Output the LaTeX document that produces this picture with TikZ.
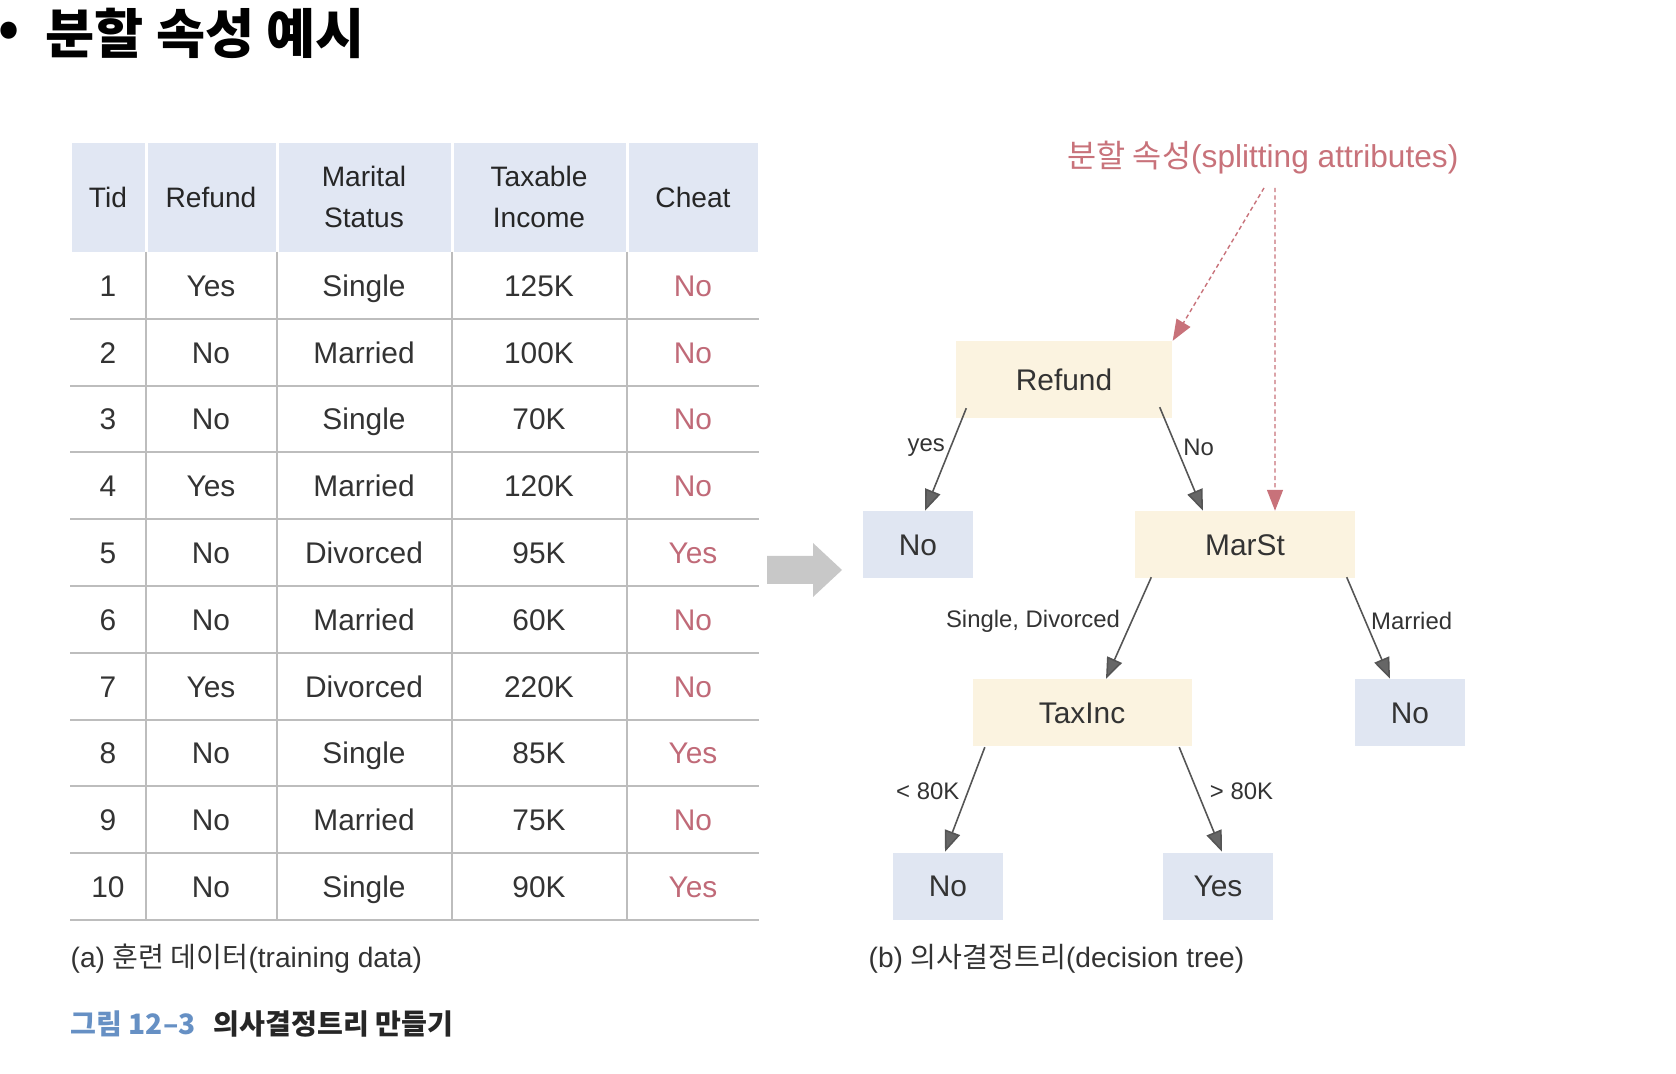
\documentclass[tikz,border=0pt]{standalone}
\usepackage{fontspec}
\setmainfont{Liberation Sans}
\newfontfamily\krfont{Noto Sans CJK KR}
\usetikzlibrary{arrows.meta}
\usepackage{xcolor}
\definecolor{headbg}{HTML}{E1E7F3}
\definecolor{leafbg}{HTML}{E0E6F2}
\definecolor{nodebg}{HTML}{FBF3E0}
\definecolor{gridline}{HTML}{BDBDBD}
\definecolor{textdark}{HTML}{333333}
\definecolor{cheatred}{HTML}{C06A78}
\definecolor{splitred}{HTML}{C8727A}
\definecolor{edgegray}{HTML}{555555}
\definecolor{arrowgray}{HTML}{C8C8C8}
\definecolor{figblue}{HTML}{6690C4}

\tikzset{
  cell/.style={text=textdark,font=\fontsize{8.5}{10}\selectfont,inner sep=0pt,anchor=base},
  headcell/.style={text=black!85,font=\fontsize{8}{11.7}\selectfont,align=center,inner sep=0pt},
  treenode/.style={fill=nodebg,text=textdark,font=\fontsize{8.5}{10}\selectfont,minimum width=21.9mm,minimum height=6.7mm,inner sep=0pt},
  leafnode/.style={fill=leafbg,text=textdark,font=\fontsize{8.5}{10}\selectfont,minimum width=11mm,minimum height=6.7mm,inner sep=0pt},
  edge/.style={edgegray,line width=0.45pt,-{Triangle[length=2.1mm,width=1.6mm,fill=edgegray!90]}},
  edgelabel/.style={text=textdark,font=\fontsize{6.8}{8}\selectfont,inner sep=0pt},
  splitarrow/.style={splitred,line width=0.4pt,dash pattern=on 1.2pt off 0.9pt,-{Triangle[length=2.1mm,width=1.6mm]}},
}

\begin{document}
\begin{tikzpicture}[x=0.1mm,y=-0.1mm]
    \useasboundingbox (0,0) rectangle (1676,1074);

    % Title
    \node[font=\krfont\bfseries\fontsize{15}{17}\selectfont,inner sep=0pt] (bullet) at (9,34) {•};
    \node[anchor=west,font=\krfont\bfseries\fontsize{15.2}{17}\selectfont,inner sep=0pt] (title) at (45,33) {분할 속성 예시};

    % Table header
    \foreach \xa/\xb in {70/146,146/277,277/452,452/627,627/759}
      \fill[headbg] (\xa+1.5,143) rectangle (\xb-1.5,252);
    \node[headcell] (hTid) at (108,197) {Tid};
    \node[headcell] (hRefund) at (211,197) {Refund};
    \node[headcell] (hMarital) at (364,197) {Marital\\Status};
    \node[headcell] (hIncome) at (539,197) {Taxable\\Income};
    \node[headcell] (hCheat) at (693,197) {Cheat};

    % Table grid
    \foreach \k in {1,...,10}
      \draw[gridline,line width=0.6pt] (70,252+66.8*\k) -- (759,252+66.8*\k);
    \foreach \xc in {146,277,452,627}
      \draw[gridline,line width=0.6pt] (\xc,252) -- (\xc,920);

    % Table rows
    \foreach \i/\r/\m/\t/\c [count=\n] in {1/Yes/Single/125K/No, 2/No/Married/100K/No, 3/No/Single/70K/No,
        4/Yes/Married/120K/No, 5/No/Divorced/95K/Yes, 6/No/Married/60K/No, 7/Yes/Divorced/220K/No,
        8/No/Single/85K/Yes, 9/No/Married/75K/No, 10/No/Single/90K/Yes}{
      \node[cell] (tid\n) at (108,229.6+66.8*\n) {\i};
      \node[cell] (refund\n) at (211,229.6+66.8*\n) {\r};
      \node[cell] (marital\n) at (364,229.6+66.8*\n) {\m};
      \node[cell] (income\n) at (539,229.6+66.8*\n) {\t};
      \node[cell,text=cheatred] (cheat\n) at (693,229.6+66.8*\n) {\c};
    }

    % Arrow between table and tree
    \fill[arrowgray] (767,556) -- (813,556) -- (813,543) -- (842,570) -- (813,597) -- (813,584) -- (767,584) -- cycle;

    % Decision tree
    \node[treenode,minimum width=21.6mm,minimum height=7.7mm] (refund) at (1064,380) {Refund};
    \node[leafnode] (noA) at (918,545) {No};
    \node[treenode,minimum width=22mm] (marst) at (1245,545) {MarSt};
    \node[treenode] (taxinc) at (1082,713) {TaxInc};
    \node[leafnode] (noB) at (1410,713) {No};
    \node[leafnode] (noC) at (948,886) {No};
    \node[leafnode] (yesA) at (1218,886) {Yes};

    \draw[edge] ([xshift=1.1mm,yshift=1.1mm]refund.south west) -- node[edgelabel,pos=0.38,left=0.5mm] (lyes) {yes} ([xshift=0.7mm]noA.north);
    \draw[edge] ([xshift=-1.3mm,yshift=1.2mm]refund.south east) -- node[edgelabel,pos=0.39,right=0.6mm] (lno) {No} ([xshift=-4.2mm]marst.north);
    \draw[edge] ([xshift=1.7mm,yshift=0.2mm]marst.south west) -- node[edgelabel,pos=0.43,left=1.1mm] (lsingle) {Single, Divorced} ([xshift=2.4mm]taxinc.north);
    \draw[edge] ([xshift=-0.9mm,yshift=0.2mm]marst.south east) -- node[edgelabel,pos=0.43,right=0.5mm] (lmarried) {Married} ([xshift=-2.0mm]noB.north);
    \draw[edge] ([xshift=1.3mm]taxinc.south west) -- node[edgelabel,pos=0.42,left=0.8mm] (llow) {< 80K} ([xshift=-0.3mm]noC.north);
    \draw[edge] ([xshift=-1.3mm]taxinc.south east) -- node[edgelabel,pos=0.42,right=1.2mm] (lhigh) {> 80K} ([xshift=0.4mm]yesA.north);

    % Splitting attributes
    \node[text=splitred,font=\fontsize{9}{10}\selectfont,inner sep=0pt] (splitlabel) at (1263,158) {{\krfont 분할 속성}(splitting attributes)};
    \coordinate (splitA) at (1264,188);
    \coordinate (splitB) at (1275,188);
    \draw[splitarrow] (splitA) -- (refund.north east);
    \draw[splitarrow] (splitB) -- ([xshift=3.0mm]marst.north);

    % Captions
    \node[anchor=west,text=textdark,font=\fontsize{8}{9}\selectfont,inner sep=0pt] (capA) at (70,959) {(a) {\krfont 훈련 데이터}(training data)};
    \node[anchor=west,text=textdark,font=\fontsize{8}{9}\selectfont,inner sep=0pt] (capB) at (868,959) {(b) {\krfont 의사결정트리}(decision tree)};
    \node[anchor=west,font=\krfont\bfseries\fontsize{8}{9}\selectfont,inner sep=0pt] (figcap) at (70,1024) {\textcolor{figblue}{그림 12–3}\hspace{1.8mm}\textcolor{black!85}{의사결정트리 만들기}};
\end{tikzpicture}
\end{document}
